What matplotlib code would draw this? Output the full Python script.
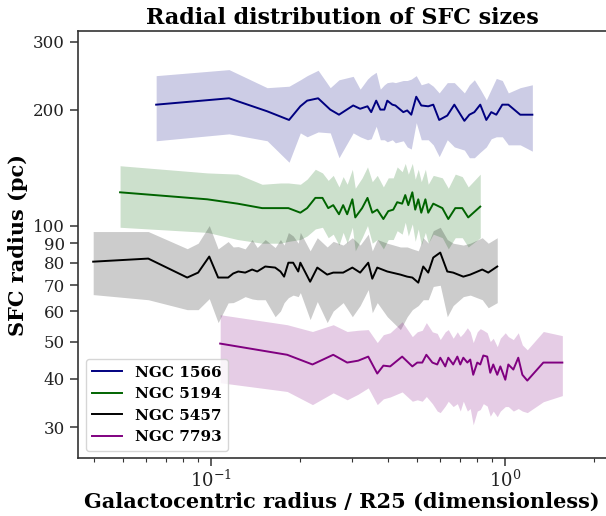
import numpy as np
import matplotlib
matplotlib.use('Agg')
import matplotlib.pyplot as plt
from matplotlib.ticker import FixedLocator, ScalarFormatter, NullLocator, LogLocator, NullFormatter

plt.rcParams['font.family'] = 'DejaVu Serif'

# NGC 1566
x_1566 = [0.065, 0.115, 0.155, 0.184, 0.201, 0.212, 0.231, 0.254, 0.272, 0.304, 0.321, 0.340, 0.350, 0.364,
          0.376, 0.388, 0.397, 0.413, 0.423, 0.450, 0.464, 0.479, 0.498, 0.518, 0.547, 0.569, 0.596, 0.635,
          0.671, 0.726, 0.755, 0.785, 0.822, 0.862, 0.896, 0.932, 0.977, 1.024, 1.124, 1.236]
r_1566 = [206, 214, 198, 188, 204, 211, 214, 200, 194, 205, 201, 204, 197, 211, 200, 200, 211, 206, 205, 197,
          199, 194, 216, 205, 204, 206, 188, 193, 206, 187, 194, 197, 206, 188, 197, 194, 206, 206, 194, 194]
hi_1566 = [245, 254, 228, 230, 239, 245, 253, 228, 239, 244, 226, 240, 245, 250, 226, 232, 235, 236, 235, 238,
           238, 240, 245, 232, 235, 230, 221, 235, 235, 221, 232, 239, 226, 212, 226, 241, 238, 221, 228, 232]
lo_1566 = [166, 173, 166, 146, 174, 170, 175, 174, 150, 174, 170, 167, 168, 181, 167, 167, 165, 167, 164, 166,
           160, 158, 185, 167, 167, 162, 151, 167, 160, 157, 150, 150, 155, 160, 168, 170, 170, 162, 162, 156]

# NGC 5194
x_5194 = [0.049, 0.097, 0.123, 0.149, 0.172, 0.183, 0.201, 0.212, 0.226, 0.239, 0.250, 0.260, 0.272, 0.281,
          0.290, 0.302, 0.309, 0.326, 0.340, 0.353, 0.367, 0.385, 0.400, 0.416, 0.429, 0.446, 0.457, 0.468,
          0.483, 0.494, 0.506, 0.518, 0.535, 0.547, 0.569, 0.611, 0.640, 0.676, 0.714, 0.748, 0.822]
r_5194 = [122, 117, 114, 111, 111, 111, 108, 111, 118, 118, 111, 113, 107, 113, 107, 117, 105, 111, 118, 108,
          110, 104, 109, 110, 115, 114, 120, 113, 122, 110, 117, 108, 117, 108, 114, 111, 104, 111, 111, 105, 112]
hi_5194 = [143, 137, 136, 128, 129, 129, 128, 132, 140, 137, 131, 135, 126, 134, 128, 140, 125, 133, 142, 130,
           135, 126, 133, 133, 142, 138, 145, 136, 145, 132, 140, 130, 140, 128, 135, 133, 125, 136, 134, 126, 136]
lo_5194 = [99, 96, 92, 90, 90, 91, 92, 94, 98, 99, 93, 95, 89, 96, 90, 99, 86, 93, 100, 90,
           92, 87, 92, 92, 97, 95, 102, 94, 101, 91, 98, 89, 96, 90, 95, 93, 87, 93, 93, 88, 93]

# NGC 5457
x_5457 = [0.0397, 0.0611, 0.0829, 0.0903, 0.0985, 0.1056, 0.1142, 0.1188, 0.1236, 0.1305, 0.1378, 0.1434,
          0.1527, 0.165, 0.172, 0.177, 0.183, 0.190, 0.1977, 0.201, 0.217, 0.2295, 0.248, 0.260, 0.281, 0.302,
          0.321, 0.342, 0.353, 0.367, 0.397, 0.44, 0.464, 0.483, 0.506, 0.526, 0.547, 0.569, 0.601, 0.635,
          0.665, 0.720, 0.760, 0.835, 0.875, 0.939]
r_5457 = [80.6, 82.1, 73.3, 75.5, 83.1, 73.3, 73.3, 75.1, 76.0, 75.5, 76.9, 76.0, 78.3, 77.8, 76.0, 73.7,
          80.1, 80.1, 76.0, 80.1, 71.5, 77.8, 74.6, 75.5, 75.5, 77.8, 75.5, 80.1, 72.8, 77.8, 76.0, 74.6,
          73.7, 73.3, 71.1, 78.3, 75.5, 82.6, 85.1, 76.0, 75.5, 73.7, 74.6, 76.9, 75.5, 78.3]
hi_5457 = [96.5, 96.5, 87.1, 90, 100, 87, 90.9, 88, 88.2, 87, 92, 87.7, 92, 87.7, 92, 89, 95.9, 94, 90, 96,
           86, 93, 88, 91, 89, 93, 89, 95, 86, 92, 90, 88, 88, 87, 86, 93, 90, 97, 99, 92, 90, 89, 90, 93, 90, 93]
lo_5457 = [66.2, 64.2, 60.5, 60.5, 64.6, 56, 63, 63.1, 64, 65.4, 64.5, 64.2, 64.2, 58, 60, 63.1, 65, 66,
           65.4, 67, 57, 63.5, 56, 60, 63.1, 58, 62, 68.2, 59.4, 63.1, 58, 53.7, 58, 60.5, 62, 64.2, 64.2,
           69.5, 70, 58, 62, 65.4, 66, 64.2, 61.2, 63.1]

# NGC 7793
x_7793 = [0.1073, 0.1813, 0.221, 0.260, 0.290, 0.316, 0.342, 0.367, 0.385, 0.406, 0.446, 0.483, 0.502,
          0.522, 0.539, 0.565, 0.587, 0.601, 0.625, 0.640, 0.665, 0.687, 0.703, 0.720, 0.743, 0.760, 0.778,
          0.803, 0.822, 0.842, 0.868, 0.889, 0.910, 0.939, 0.962, 1.0, 1.024, 1.065, 1.107, 1.143, 1.188,
          1.347, 1.563]
r_7793 = [49.4, 46.2, 43.6, 46.2, 44.1, 44.6, 45.7, 41.3, 43.3, 43.1, 45.7, 43.1, 44.1, 44.1, 46.2, 44.1,
          43.6, 45.4, 43.1, 45.4, 43.6, 45.7, 43.6, 45.4, 44.1, 44.9, 41.0, 44.1, 43.6, 46.0, 45.7, 41.5,
          43.6, 41.0, 43.1, 39.8, 43.6, 42.3, 45.4, 41.0, 39.6, 44.1, 44.1]
hi_7793 = [58.7, 55.3, 53.1, 55.3, 53.1, 53.5, 53.7, 49.7, 52.1, 52.7, 56.3, 51.5, 53.0, 53.5, 56.0, 53.0,
           52.5, 50.6, 53, 53.7, 51, 53, 51.5, 52.5, 54.3, 53, 49.7, 53, 54.0, 53.5, 52.7, 50, 51, 48.5, 51,
           52.7, 51.5, 50.6, 52.7, 49, 47.6, 53.1, 51.8]
lo_7793 = [39.1, 37.1, 34.3, 36.8, 35.3, 36.5, 37.9, 34.3, 35.5, 35.9, 37, 35, 35.3, 35, 36, 34.5, 33, 32.7,
           34, 35, 33.9, 34.5, 33, 35, 33, 33.5, 30.4, 33, 33.3, 34.5, 34, 32, 33, 31.9, 33, 33.9, 33.9, 33,
           33.5, 33, 32.7, 34.9, 36.2]

galaxies = ['NGC 1566', 'NGC 5194', 'NGC 5457', 'NGC 7793']
colors = ['navy', 'darkgreen', 'black', 'purple']
series = [(x_1566, r_1566, lo_1566, hi_1566),
          (x_5194, r_5194, lo_5194, hi_5194),
          (x_5457, r_5457, lo_5457, hi_5457),
          (x_7793, r_7793, lo_7793, hi_7793)]
ytick_vals = [30, 40, 50, 60, 70, 80, 90, 100, 200, 300]

fig = plt.figure(figsize=(6.06, 5.16), dpi=100)
ax = fig.add_axes([0.129, 0.112, 0.871, 0.828])

for name, c, (x, r, lo, hi) in zip(galaxies, colors, series):
    ax.fill_between(x, lo, hi, color=c, alpha=0.2, linewidth=0)
    ax.plot(x, r, color=c, lw=1.4, label=name)

ax.set_xscale('log')
ax.set_yscale('log')
ax.set_xlim(0.0353, 2.2)
ax.set_ylim(24.9, 320)

ax.yaxis.set_major_locator(FixedLocator(ytick_vals))
ax.yaxis.set_major_formatter(ScalarFormatter())
ax.yaxis.set_minor_locator(NullLocator())
ax.xaxis.set_minor_locator(LogLocator(base=10, subs=np.arange(2, 10)))
ax.xaxis.set_minor_formatter(NullFormatter())

for s in ['left', 'bottom', 'top']:
    ax.spines[s].set_color('#333333')
    ax.spines[s].set_linewidth(1.2)
ax.spines['right'].set_visible(False)
ax.tick_params(which='major', length=6, width=1.1, color='#333333', labelsize=12, labelcolor='#222222')
ax.tick_params(axis='x', which='major', pad=2, labelsize=13)
ax.tick_params(which='minor', length=3, width=0.8, color='#333333')

ax.set_title('Radial distribution of SFC sizes', fontsize=16, fontweight='bold', pad=5)
ax.set_xlabel('Galactocentric radius / R25 (dimensionless)', fontsize=15, fontweight='bold', labelpad=1)
ax.set_ylabel('SFC radius (pc)', fontsize=15, fontweight='bold')
ax.legend(loc='lower left', prop={'weight': 'bold', 'size': 11})

fig.savefig('out.png', dpi=100)
